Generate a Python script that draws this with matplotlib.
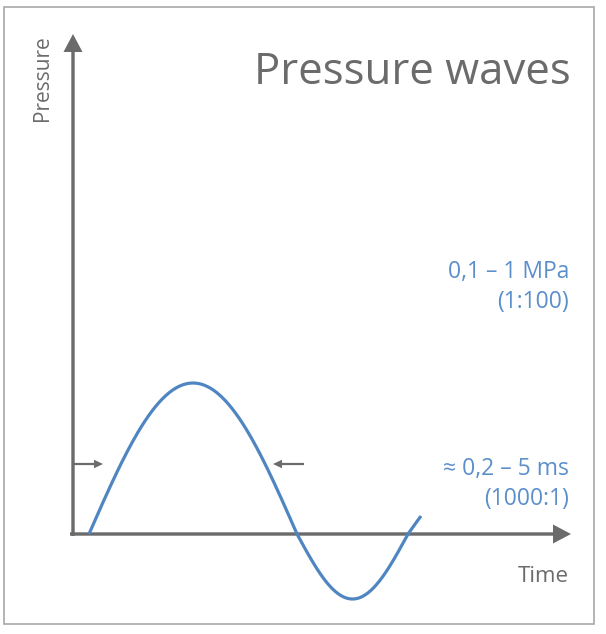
import matplotlib.pyplot as plt
import matplotlib as mpl
from matplotlib.patches import Rectangle
import numpy as np

mpl.rcParams['font.family'] = ['Open Sans', 'DejaVu Sans']

GREY = '#6b6b6b'
BLUE_LINE = '#4f86c1'
BLUE_TEXT = '#5b8fcb'

# wave phases (time units, pressure units)
phase_durations = [2.08, 1.11, 0.13]
phase_half_periods = [2.08, 1.11, 1.11]
phase_peaks = [1.51, -0.65, 0.50]

pressure_labels = ['0,1 – 1 MPa', '(1:100)']
time_labels = ['≈ 0,2 – 5 ms', '(1000:1)']

# build the curve, one half sine per phase
t_all, p_all = [], []
t0 = 0.0
for dur, half, peak in zip(phase_durations, phase_half_periods, phase_peaks):
    t = np.linspace(0, dur, 120)
    t_all.append(t0 + t)
    p_all.append(peak * np.sin(np.pi * t / half))
    t0 += dur
t_all = np.concatenate(t_all)
p_all = np.concatenate(p_all)

fig = plt.figure(figsize=(6.06, 6.34), dpi=100)
ax = fig.add_axes([0, 0, 1, 1])
ax.set_xlim(-0.89, 5.17)
ax.set_ylim(-1.00, 5.34)
ax.axis('off')

# frame around the picture
fig.patches.append(Rectangle((4 / 606, 10 / 634), 590 / 606, 617 / 634,
                             transform=fig.transFigure, fill=False,
                             edgecolor='#a8a8a8', linewidth=1.2))

# axes with arrow heads
ax.arrow(-0.16, -0.02, 0, 5.02, width=0.034, head_width=0.19, head_length=0.18,
         length_includes_head=True, color=GREY, lw=0)
ax.arrow(-0.19, 0, 5.01, 0, width=0.034, head_width=0.19, head_length=0.18,
         length_includes_head=True, color=GREY, lw=0)

# duration markers
ax.arrow(-0.16, 0.70, 0.30, 0, width=0.022, head_width=0.085, head_length=0.09,
         length_includes_head=True, color=GREY, lw=0)
ax.arrow(2.15, 0.70, -0.31, 0, width=0.022, head_width=0.085, head_length=0.09,
         length_includes_head=True, color=GREY, lw=0)

ax.plot(t_all, p_all, color=BLUE_LINE, lw=2.3, solid_capstyle='butt')

# texts
ax.text(4.82, 4.50, 'Pressure waves', ha='right', va='baseline',
        fontsize=31.5, color=GREY)
ax.text(-0.46, 4.99, 'Pressure', rotation=90, ha='center', va='top',
        fontsize=15, color=GREY)
ax.text(4.80, -0.48, 'Time', ha='right', va='baseline', fontsize=16, color=GREY)

for i, s in enumerate(pressure_labels):
    ax.text(4.80, 2.56 - 0.30 * i, s, ha='right', va='baseline',
            fontsize=16.5, color=BLUE_TEXT)
for i, s in enumerate(time_labels):
    ax.text(4.80, 0.59 - 0.30 * i, s, ha='right', va='baseline',
            fontsize=16.5, color=BLUE_TEXT)

fig.savefig('out.png', dpi=100)
